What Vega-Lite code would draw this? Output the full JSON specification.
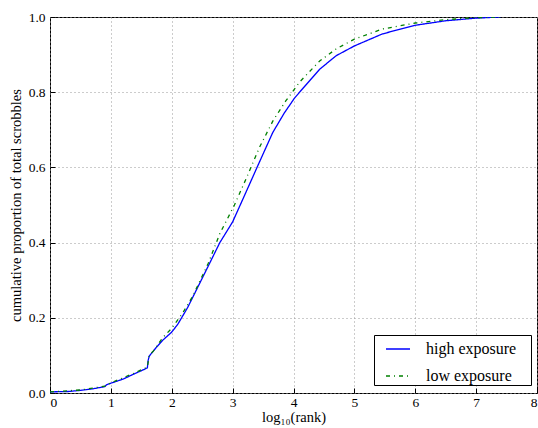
{
  "$schema": "https://vega.github.io/schema/vega-lite/v6.json",
  "width": 487,
  "height": 376,
  "autosize": "none",
  "padding": {"left": 50, "top": 17, "right": 1, "bottom": 35},
  "background": "white",
  "config": {
    "font": "Liberation Serif",
    "view": {"stroke": "#000000", "strokeWidth": 1},
    "axis": {
      "domain": false,
      "ticks": true,
      "tickSize": -5,
      "tickColor": "#000000",
      "tickWidth": 1,
      "grid": true,
      "gridColor": "#999999",
      "gridDash": [1, 3],
      "gridWidth": 1,
      "gridOpacity": 1,
      "labelFont": "Liberation Serif",
      "labelFontSize": 13.5,
      "labelColor": "#000000",
      "titleFont": "Liberation Serif",
      "titleFontSize": 14.5,
      "titleFontWeight": "normal",
      "titleColor": "#000000"
    },
    "legend": {
      "orient": "none",
      "legendX": 324,
      "legendY": 318,
      "strokeColor": "#000000",
      "fillColor": "#ffffff",
      "padding": 1,
      "labelFont": "Liberation Serif",
      "labelFontSize": 16,
      "labelColor": "#000000",
      "symbolType": "stroke",
      "symbolSize": 576,
      "symbolStrokeWidth": 1.3,
      "symbolOffset": 10,
      "rowPadding": 6,
      "labelOffset": 15,
      "titleOrient": "right",
      "titlePadding": 14,
      "titleFontSize": 4,
      "titleColor": "#ffffff"
    }
  },
  "data": {
    "values": [
      {"series": "high exposure", "x": 0.0, "y": 0.003},
      {"series": "high exposure", "x": 0.3, "y": 0.004},
      {"series": "high exposure", "x": 0.5, "y": 0.007},
      {"series": "high exposure", "x": 0.7, "y": 0.011},
      {"series": "high exposure", "x": 0.9, "y": 0.017},
      {"series": "high exposure", "x": 0.93, "y": 0.022},
      {"series": "high exposure", "x": 1.0, "y": 0.026},
      {"series": "high exposure", "x": 1.2, "y": 0.037},
      {"series": "high exposure", "x": 1.4, "y": 0.052},
      {"series": "high exposure", "x": 1.55, "y": 0.063},
      {"series": "high exposure", "x": 1.6, "y": 0.067},
      {"series": "high exposure", "x": 1.61, "y": 0.085},
      {"series": "high exposure", "x": 1.63, "y": 0.098},
      {"series": "high exposure", "x": 1.67, "y": 0.106},
      {"series": "high exposure", "x": 1.75, "y": 0.122},
      {"series": "high exposure", "x": 1.85, "y": 0.14},
      {"series": "high exposure", "x": 2.0, "y": 0.162},
      {"series": "high exposure", "x": 2.1, "y": 0.183},
      {"series": "high exposure", "x": 2.26, "y": 0.227},
      {"series": "high exposure", "x": 2.5, "y": 0.305},
      {"series": "high exposure", "x": 2.79, "y": 0.4},
      {"series": "high exposure", "x": 3.0, "y": 0.455},
      {"series": "high exposure", "x": 3.2, "y": 0.527},
      {"series": "high exposure", "x": 3.39, "y": 0.596},
      {"series": "high exposure", "x": 3.66, "y": 0.693},
      {"series": "high exposure", "x": 3.85, "y": 0.745},
      {"series": "high exposure", "x": 4.02, "y": 0.785},
      {"series": "high exposure", "x": 4.1, "y": 0.8},
      {"series": "high exposure", "x": 4.43, "y": 0.861},
      {"series": "high exposure", "x": 4.7, "y": 0.897},
      {"series": "high exposure", "x": 5.0, "y": 0.923},
      {"series": "high exposure", "x": 5.46, "y": 0.955},
      {"series": "high exposure", "x": 6.0, "y": 0.978},
      {"series": "high exposure", "x": 6.5, "y": 0.99},
      {"series": "high exposure", "x": 7.0, "y": 0.997},
      {"series": "high exposure", "x": 7.4, "y": 1.0},
      {"series": "low exposure", "x": 0.0, "y": 0.003},
      {"series": "low exposure", "x": 0.5, "y": 0.008},
      {"series": "low exposure", "x": 0.9, "y": 0.018},
      {"series": "low exposure", "x": 1.0, "y": 0.027},
      {"series": "low exposure", "x": 1.4, "y": 0.054},
      {"series": "low exposure", "x": 1.6, "y": 0.069},
      {"series": "low exposure", "x": 1.63, "y": 0.1},
      {"series": "low exposure", "x": 1.7, "y": 0.112},
      {"series": "low exposure", "x": 1.85, "y": 0.147},
      {"series": "low exposure", "x": 2.0, "y": 0.172},
      {"series": "low exposure", "x": 2.18, "y": 0.213},
      {"series": "low exposure", "x": 2.34, "y": 0.256},
      {"series": "low exposure", "x": 2.6, "y": 0.345},
      {"series": "low exposure", "x": 2.79, "y": 0.424},
      {"series": "low exposure", "x": 3.03, "y": 0.5},
      {"series": "low exposure", "x": 3.23, "y": 0.573},
      {"series": "low exposure", "x": 3.44, "y": 0.653},
      {"series": "low exposure", "x": 3.66, "y": 0.723},
      {"series": "low exposure", "x": 3.87, "y": 0.776},
      {"series": "low exposure", "x": 4.1, "y": 0.827},
      {"series": "low exposure", "x": 4.43, "y": 0.883},
      {"series": "low exposure", "x": 4.7, "y": 0.915},
      {"series": "low exposure", "x": 5.0, "y": 0.941},
      {"series": "low exposure", "x": 5.46, "y": 0.968},
      {"series": "low exposure", "x": 6.0, "y": 0.984},
      {"series": "low exposure", "x": 6.5, "y": 0.993},
      {"series": "low exposure", "x": 7.0, "y": 0.998},
      {"series": "low exposure", "x": 7.4, "y": 1.0}
    ]
  },
  "mark": {"type": "line", "strokeWidth": 1.3, "clip": true},
  "encoding": {
    "x": {
      "field": "x",
      "type": "quantitative",
      "scale": {"domain": [0, 8], "nice": false, "zero": false},
      "axis": {"values": [0, 1, 2, 3, 4, 5, 6, 7, 8], "format": "d", "title": "log₁₀(rank)", "labelPadding": 7, "titlePadding": 2}
    },
    "y": {
      "field": "y",
      "type": "quantitative",
      "scale": {"domain": [0, 1], "nice": false},
      "axis": {"values": [0, 0.2, 0.4, 0.6, 0.8, 1.0], "format": ".1f", "title": "cumulative proportion of total scrobbles", "labelPadding": 10, "titlePadding": 5}
    },
    "color": {
      "field": "series",
      "type": "nominal",
      "scale": {"domain": ["high exposure", "low exposure"], "range": ["#0000ff", "#008000"]},
      "legend": {"title": "\u00a0"}
    },
    "strokeDash": {
      "field": "series",
      "type": "nominal",
      "scale": {"domain": ["high exposure", "low exposure"], "range": [[1, 0], [4, 4, 1, 4]]},
      "legend": {"title": "\u00a0"}
    },
    "order": {"field": "x", "type": "quantitative"}
  }
}
